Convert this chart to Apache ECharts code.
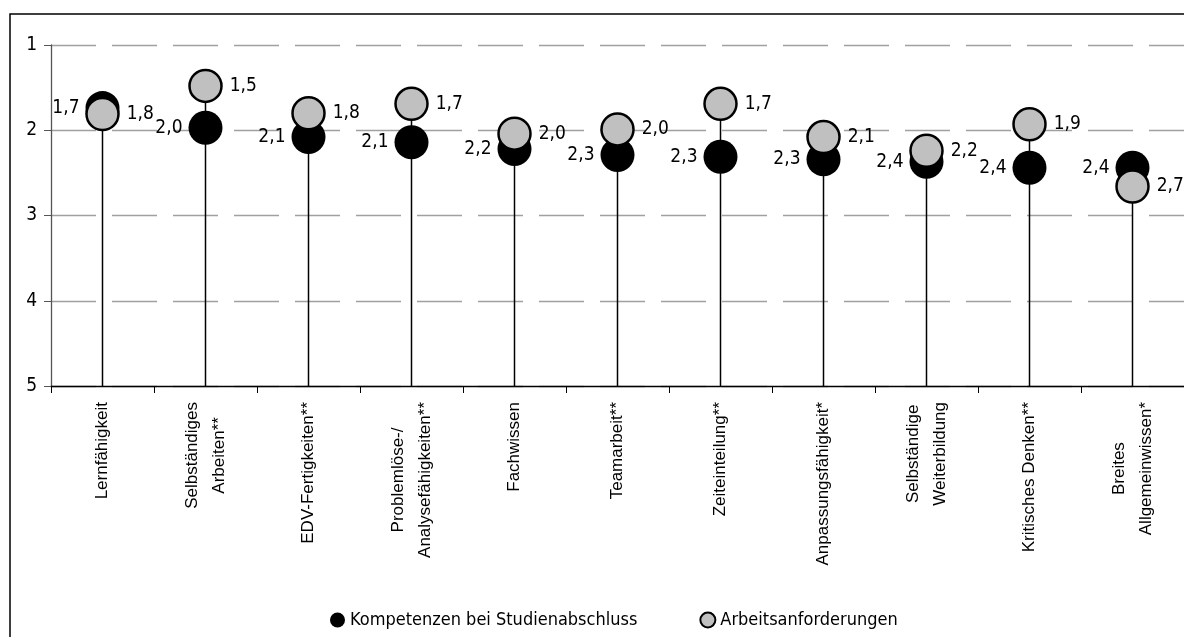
<!DOCTYPE html>
<html>
<head>
<meta charset="utf-8">
<script src="https://cdn.jsdelivr.net/npm/echarts@6/dist/echarts.min.js"></script>
<style>
html,body{margin:0;padding:0;background:#fff;}
#c{width:1184px;height:637px;}
</style>
</head>
<body>
<div id="c"></div>
<script>
var categories = [
  'Lernfähigkeit',
  'Selbständiges\nArbeiten**',
  'EDV-Fertigkeiten**',
  'Problemlöse-/\nAnalysefähigkeiten**',
  'Fachwissen',
  'Teamarbeit**',
  'Zeiteinteilung**',
  'Anpassungsfähigkeit*',
  'Selbständige\nWeiterbildung',
  'Kritisches Denken**',
  'Breites\nAllgemeinwissen*'
];
var kompetenzen = [1.74, 1.97, 2.08, 2.14, 2.22, 2.29, 2.31, 2.34, 2.37, 2.44, 2.44];
var anforderungen = [1.81, 1.48, 1.80, 1.69, 2.04, 1.99, 1.69, 2.08, 2.24, 1.93, 2.66];
var yTicks = [1, 2, 3, 4, 5];
var seriesNames = ['Kompetenzen bei Studienabschluss', 'Arbeitsanforderungen'];

var NARROW = '"Liberation Sans Narrow", "Arial Narrow", "DejaVu Sans Condensed", sans-serif';
var SANS = '"Liberation Sans", Arial, sans-serif';

function fmt(v) { return v.toFixed(1).replace('.', ','); }

var stems = categories.map(function (c, i) {
  return [i, Math.min(kompetenzen[i], anforderungen[i])];
});

var chart = echarts.init(document.getElementById('c'), null, {renderer: 'canvas'});
var option = {
  animation: false,
  backgroundColor: '#ffffff',
  graphic: [{
    type: 'rect',
    shape: {x: 10, y: 14, width: 1200, height: 700},
    style: {fill: 'none', stroke: '#000', lineWidth: 1.5},
    z: 100, silent: true
  }],
  grid: {left: 51, right: -4, top: 45, bottom: 251, containLabel: false},
  legend: {
    data: seriesNames,
    left: 325, top: 606,
    itemWidth: 15, itemHeight: 15, itemGap: 62,
    icon: 'circle',
    textStyle: {fontFamily: NARROW, fontSize: 18, color: '#000'}
  },
  xAxis: {
    type: 'category',
    data: categories,
    boundaryGap: true,
    axisLine: {lineStyle: {color: '#000', width: 1.3}},
    axisTick: {show: true, interval: 0, length: 7, lineStyle: {color: '#000'}},
    axisLabel: {
      interval: 0, rotate: 90, margin: 16, color: '#000',
      fontFamily: SANS, fontSize: 17,
      formatter: function (v) {
        return v.split('\n').map(function (l) { return '{c|' + l + '}'; }).join('\n');
      },
      rich: {c: {align: 'center', fontFamily: SANS, fontSize: 17, lineHeight: 27, color: '#000'}}
    },
    splitLine: {show: false}
  },
  yAxis: {
    type: 'value',
    inverse: true,
    min: 1, max: 5, interval: 1,
    axisLine: {show: true, lineStyle: {color: '#555', width: 1.3}},
    axisTick: {show: true, length: 7, lineStyle: {color: '#555'}},
    axisLabel: {
      margin: 14, color: '#000', fontFamily: NARROW, fontSize: 19,
      formatter: function (v) { return yTicks.indexOf(v) >= 0 ? String(v) : ''; }
    },
    splitLine: {show: true, lineStyle: {color: '#a0a0a0', width: 1.3, type: [45, 16]}}
  },
  series: [
    {
      type: 'custom',
      name: 'stems',
      data: stems,
      z: 1,
      renderItem: function (params, api) {
        var p1 = api.coord([api.value(0), api.value(1)]);
        var p2 = api.coord([api.value(0), 5]);
        return {type: 'line', shape: {x1: p1[0], y1: p1[1], x2: p2[0], y2: p2[1]},
          style: {stroke: '#000', lineWidth: 1.5}};
      },
      silent: true
    },
    {
      type: 'scatter',
      name: seriesNames[0],
      data: kompetenzen,
      symbol: 'circle',
      symbolSize: 34,
      z: 2,
      itemStyle: {color: '#000', opacity: 1},
      label: {
        show: true, position: 'left', distance: 6,
        fontFamily: NARROW, fontSize: 19, color: '#000',
        formatter: function (p) { return fmt(p.value); }
      }
    },
    {
      type: 'scatter',
      name: seriesNames[1],
      data: anforderungen,
      symbol: 'circle',
      symbolSize: 32,
      z: 3,
      itemStyle: {color: '#c0c0c0', borderColor: '#000', borderWidth: 2.5, opacity: 1},
      label: {
        show: true, position: 'right', distance: 7,
        fontFamily: NARROW, fontSize: 19, color: '#000',
        formatter: function (p) { return fmt(p.value); }
      }
    }
  ]
};
chart.setOption(option);
</script>
</body>
</html>
